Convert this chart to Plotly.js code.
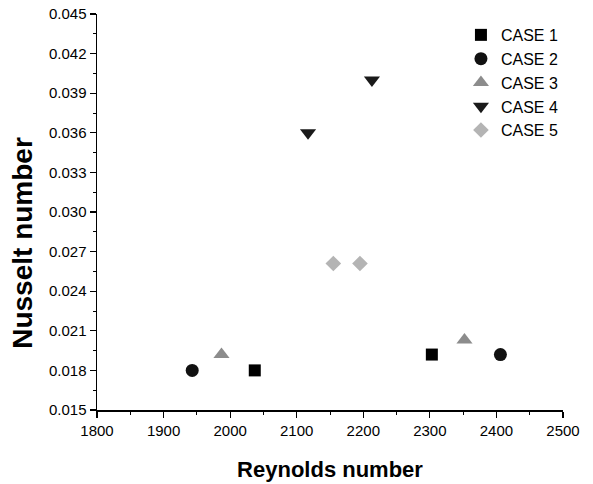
<!DOCTYPE html>
<html>
<head>
<meta charset="utf-8">
<script src="https://cdn.plot.ly/plotly-3.0.1.min.js"></script>
<style>html,body{margin:0;padding:0;background:#fff;}#chart{width:593px;height:484px;}</style>
</head>
<body>
<div id="chart"></div>
<script>
const caseNames = ["CASE 1", "CASE 2", "CASE 3", "CASE 4", "CASE 5"];
const case1Re = [2037, 2303];
const case1Nu = [0.0180, 0.0192];
const case2Re = [1943, 2406];
const case2Nu = [0.0180, 0.0192];
const case3Re = [1987, 2352];
const case3Nu = [0.0192, 0.0203];
const case4Re = [2117, 2213];
const case4Nu = [0.0360, 0.0400];
const case5Re = [2155, 2195];
const case5Nu = [0.0261, 0.0261];
const xTitle = "Reynolds number";
const yTitle = "Nusselt number";

const xs = [case1Re, case2Re, case3Re, case4Re, case5Re];
const ys = [case1Nu, case2Nu, case3Nu, case4Nu, case5Nu];
const symbols = ["square", "circle", "triangle-up", "triangle-down", "diamond"];
const colors = ["#000000", "#111111", "#8c8c8c", "#1a1a1a", "#b4b4b4"];
const sizes = [12, 13, 14, 14, 12];

const traces = caseNames.map((name, i) => ({
  type: "scatter",
  mode: "markers",
  name: name,
  x: xs[i],
  y: ys[i],
  marker: {symbol: symbols[i], color: colors[i], size: sizes[i], line: {width: 0}}
}));

const fam = "Arial, 'Liberation Sans', sans-serif";
const axisFont = {family: fam, size: 15, color: "#000"};

const layout = {
  width: 593,
  height: 484,
  margin: {l: 97, r: 30, t: 14, b: 74},
  paper_bgcolor: "#fff",
  plot_bgcolor: "#fff",
  showlegend: true,
  legend: {
    x: 0.781, y: 0.99, xanchor: "left", yanchor: "top",
    font: {family: fam, size: 16, color: "#000"},
    bgcolor: "rgba(0,0,0,0)", tracegroupgap: 3
  },
  xaxis: {
    range: [1800, 2500],
    dtick: 100, tick0: 1800,
    showgrid: false, zeroline: false,
    showline: true, linecolor: "#000", linewidth: 1.5,
    ticks: "outside", ticklen: 6, tickwidth: 1.2, tickcolor: "#000",
    minor: {dtick: 50, ticks: "outside", ticklen: 3, tickwidth: 1, tickcolor: "#000", showgrid: false},
    tickfont: axisFont,
    title: {text: xTitle, font: {family: fam, size: 22, color: "#000", weight: "bold"}, standoff: 24}
  },
  yaxis: {
    range: [0.015, 0.045],
    dtick: 0.003, tick0: 0.015, tickformat: ".3f",
    showgrid: false, zeroline: false,
    showline: true, linecolor: "#000", linewidth: 1.5,
    ticks: "outside", ticklen: 6, tickwidth: 1.2, tickcolor: "#000",
    minor: {dtick: 0.0015, ticks: "outside", ticklen: 3, tickwidth: 1, tickcolor: "#000", showgrid: false},
    tickfont: axisFont
  },
  annotations: [{
    text: yTitle,
    xref: "paper", yref: "paper",
    x: -0.159, y: 0.422,
    xanchor: "center", yanchor: "middle",
    textangle: -90, showarrow: false,
    font: {family: fam, size: 28, color: "#000", weight: "bold"}
  }]
};

Plotly.newPlot("chart", traces, layout, {displayModeBar: false, staticPlot: true});
</script>
</body>
</html>
